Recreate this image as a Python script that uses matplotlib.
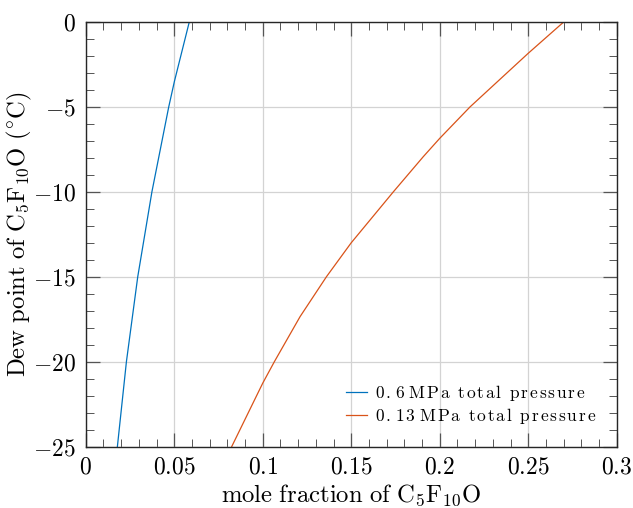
import matplotlib
matplotlib.use("Agg")
import matplotlib.pyplot as plt
from matplotlib.ticker import MultipleLocator, FuncFormatter

plt.rcParams["mathtext.fontset"] = "cm"
plt.rcParams["font.family"] = "serif"
plt.rcParams["font.serif"] = ["cmr10"]
plt.rcParams["axes.formatter.use_mathtext"] = True

# dew point curves
dew_06 = [-25, -20, -15, -10, -5, -3.5, 0]
x_06mpa = [0.0179, 0.0230, 0.0294, 0.0374, 0.0469, 0.0501, 0.0585]

dew_013 = [-25, -21.27, -20, -17.35, -15, -13.0, -10, -7.93, -6.85, -5, -1.84, 0]
x_013mpa = [0.0825, 0.100, 0.1066, 0.1211, 0.1360, 0.150, 0.1738, 0.1907,
            0.200, 0.2171, 0.250, 0.270]

labels = [("0.6", "MPa total pressure"), ("0.13", "MPa total pressure")]


def spaced(num, text, gap=0.12):
    # the legend text in the reference is set with wide letter spacing
    g = r"\hspace{%g}" % gap
    words = [g.join(w) for w in text.split(" ")]
    return (r"$\mathrm{" + g.join(num) + r"\,\," + (g + r"\ " + g).join(words) + "}$")


def fmt(v, pos):
    s = f"{v:.2f}".rstrip("0").rstrip(".")
    if s in ("-0", ""):
        s = "0"
    return f"${s}$"


fig = plt.figure(figsize=(6.33, 5.08), dpi=100)
ax = fig.add_axes([0.1354, 0.121, 0.8389, 0.8356])

ax.plot(x_06mpa, dew_06, color="#0072bd", lw=0.9, label=spaced(*labels[0]))
ax.plot(x_013mpa, dew_013, color="#d95319", lw=0.9, label=spaced(*labels[1]))

ax.set_xlim(0, 0.3)
ax.set_ylim(-25, 0)
ax.xaxis.set_major_locator(MultipleLocator(0.05))
ax.xaxis.set_minor_locator(MultipleLocator(0.01))
ax.yaxis.set_major_locator(MultipleLocator(5))
ax.yaxis.set_minor_locator(MultipleLocator(1))
ax.xaxis.set_major_formatter(FuncFormatter(fmt))
ax.yaxis.set_major_formatter(FuncFormatter(fmt))

ax.grid(True, which="major", color="#d3d3d3", lw=0.9)
ax.set_axisbelow(True)
ax.tick_params(which="both", direction="in", top=True, right=True,
               colors="#555555", labelcolor="black", labelsize=17, pad=7)
ax.tick_params(which="major", length=10, width=0.9)
ax.tick_params(which="minor", length=6, width=0.7)
for s in ax.spines.values():
    s.set_color("#262626")
    s.set_linewidth(1.0)

ax.set_xlabel(r"$\mathrm{mole\ fraction\ of\ C_5F_{10}O}$", fontsize=17.8)
ax.set_ylabel(r"$\mathrm{Dew\ point\ of\ C_5F_{10}O\ (}{}^{\circ}\mathrm{C)}$", fontsize=17.8)
ax.xaxis.set_label_coords(0.5, -0.1307)
ax.xaxis.label.set_verticalalignment("baseline")
ax.yaxis.set_label_coords(-0.113, 0.5)
ax.yaxis.label.set_verticalalignment("baseline")

ax.legend(loc="lower right", frameon=False, fontsize=12.5, handlelength=1.2,
          handletextpad=0.45, labelspacing=0.15, borderaxespad=0.8)

fig.savefig("out.png", dpi=100)
